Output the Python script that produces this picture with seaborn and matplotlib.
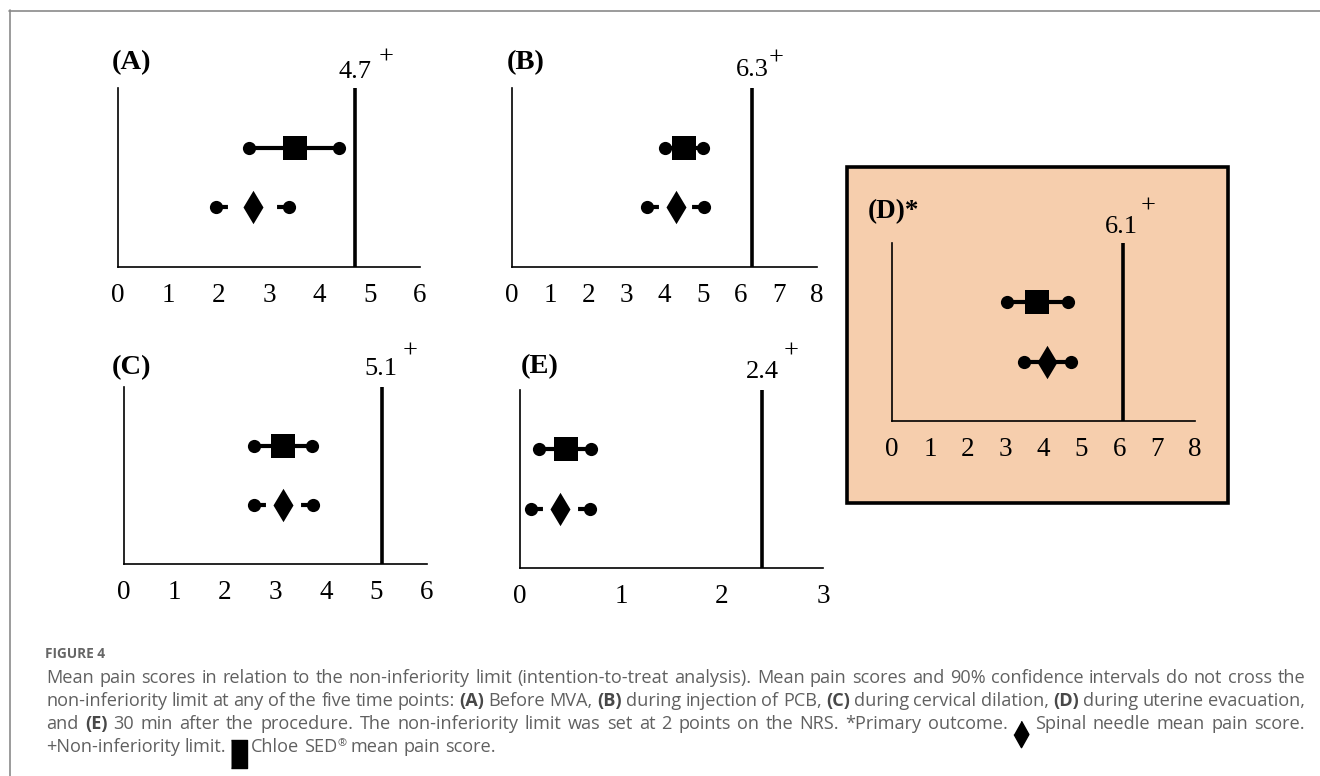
import numpy as np
import pandas as pd
import matplotlib
matplotlib.use("Agg")
import matplotlib.pyplot as plt
import seaborn as sns
from matplotlib.lines import Line2D
from matplotlib.patches import Rectangle

# ---------------- data ----------------
panels = ["A", "B", "C", "D", "E"]
panel_titles = ["(A)", "(B)", "(C)", "(D)*", "(E)"]
limits = [4.7, 6.3, 5.1, 6.1, 2.4]
limit_labels = ["4.7", "6.3", "5.1", "6.1", "2.4"]
x_max = [6, 8, 6, 8, 3]
groups = ["Chloe SED", "Spinal needle"]
chloe_mean = [3.52, 4.51, 3.15, 3.83, 0.46]
chloe_lo = [2.60, 4.00, 2.57, 3.03, 0.19]
chloe_hi = [4.40, 5.00, 3.72, 4.64, 0.70]
spinal_mean = [2.68, 4.30, 3.15, 4.09, 0.40]
spinal_lo = [1.95, 3.55, 2.57, 3.48, 0.11]
spinal_hi = [3.40, 5.04, 3.74, 4.72, 0.69]

caption_head = "FIGURE 4"
caption_lines = [
    "Mean pain scores in relation to the non-inferiority limit (intention-to-treat analysis). Mean pain scores and 90% confidence intervals do not cross the",
    "non-inferiority limit at any of the five time points: **(A)** Before MVA, **(B)** during injection of PCB, **(C)** during cervical dilation, **(D)** during uterine evacuation,",
    "and **(E)** 30 min after the procedure. The non-inferiority limit was set at 2 points on the NRS. *Primary outcome. ◆ Spinal needle mean pain score.",
    "+Non-inferiority limit. ■ Chloe SED^® mean pain score.",
]

# ---------------- style ----------------
sns.set_style("white")
plt.rcParams["font.family"] = ["Liberation Serif", "DejaVu Serif"]
plt.rcParams["lines.scale_dashes"] = False

W, H = 1320, 776
fig = plt.figure(figsize=(W / 100, H / 100), dpi=100)
fig.patch.set_facecolor("white")


def fx(px):
    return px / W


def fy(py):
    return 1 - py / H


# outer frame lines
fig.add_artist(Line2D([fx(9), 1], [fy(10.5), fy(10.5)], color="#8a8a8a", lw=1.2))
fig.add_artist(Line2D([fx(9.5), fx(9.5)], [fy(10), 0], color="#8a8a8a", lw=1.2))

# highlighted box for panel D
PEACH = "#F6CEAD"
fig.add_artist(Rectangle((fx(847), fy(503)), (1228 - 847) / W, (503 - 167) / H,
                         transform=fig.transFigure, facecolor=PEACH,
                         edgecolor="black", lw=2.6, zorder=0))

axes_px = {"A": (118, 88, 420, 267), "B": (512, 88, 817, 267),
           "C": (124, 387, 427, 564), "D": (892, 243, 1195, 421),
           "E": (520, 390, 823, 568)}
title_px = {"A": (112, 69), "B": (507, 69), "C": (112, 374), "D": (868, 218), "E": (521, 373)}
limlab_px = {"A": (355, 78), "B": (752, 76), "C": (381, 375), "D": (1121, 233), "E": (762, 378)}
plus_px = {"A": (386, 58), "B": (776, 59), "C": (410, 352), "D": (1148, 207), "E": (791, 352)}

for i, p in enumerate(panels):
    l, t, r, b = axes_px[p]
    ax = fig.add_axes([fx(l), fy(b), (r - l) / W, (b - t) / H])
    ax.patch.set_alpha(0)

    # CI lines
    ax.plot([chloe_lo[i], chloe_hi[i]], [1, 1], color="black", lw=3, solid_capstyle="butt", zorder=2)
    if p == "D":
        ax.plot([spinal_lo[i], spinal_hi[i]], [0, 0], color="black", lw=3, solid_capstyle="butt", zorder=2)
    else:
        dash = (0, (8.6, 200))
        ax.plot([spinal_lo[i], spinal_mean[i]], [0, 0], color="black", lw=3,
                linestyle=dash, dash_capstyle="butt", zorder=2)
        ax.plot([spinal_hi[i], spinal_mean[i]], [0, 0], color="black", lw=3,
                linestyle=dash, dash_capstyle="butt", zorder=2)

    ends = pd.DataFrame({"score": [chloe_lo[i], chloe_hi[i], spinal_lo[i], spinal_hi[i]],
                         "row": [1, 1, 0, 0]})
    sns.scatterplot(data=ends, x="score", y="row", ax=ax, color="black", marker="o",
                    s=9.5 ** 2, linewidth=0, zorder=3)
    means = pd.DataFrame({"score": [chloe_mean[i], spinal_mean[i]], "row": [1, 0], "group": groups})
    sns.scatterplot(data=means[means.group == groups[0]], x="score", y="row", ax=ax,
                    color="black", marker="s", s=17 ** 2, linewidth=0, zorder=4)
    sns.scatterplot(data=means[means.group == groups[1]], x="score", y="row", ax=ax,
                    color="black", marker="d", s=17 ** 2, linewidth=0, zorder=4)

    ax.axvline(limits[i], color="black", lw=2.6, zorder=1)
    ax.set_xlim(0, x_max[i])
    ax.set_ylim(-1, 2)
    ax.set_xticks(range(x_max[i] + 1))
    ax.set_yticks([])
    ax.set_xlabel("")
    ax.set_ylabel("")
    for s in ["top", "right"]:
        ax.spines[s].set_visible(False)
    for s in ["left", "bottom"]:
        ax.spines[s].set_color("black")
        ax.spines[s].set_linewidth(1.2)
    ax.tick_params(axis="x", length=0, pad=11.5, labelsize=19.5, colors="black")
    leg = ax.get_legend()
    if leg:
        leg.remove()

    tx, ty = title_px[p]
    fig.text(fx(tx), fy(ty), panel_titles[i], ha="left", va="baseline",
             fontsize=20.5 if p != "D" else 19.5, fontweight="bold", color="black")
    lx, ly = limlab_px[p]
    fig.text(fx(lx), fy(ly), limit_labels[i], ha="center", va="baseline",
             fontsize=19, color="black")
    px_, py_ = plus_px[p]
    fig.text(fx(px_), fy(py_), "+", ha="center", va="center", fontsize=19, color="black")

# ---------------- caption ----------------
renderer = fig.canvas.get_renderer()
CAP_FONT = ["Open Sans", "DejaVu Sans"]
CAP_COLOR = "#606060"
X0, X1 = 46, 1305
glyph_w = {"diamond": 14, "square": 15}


def make_styles(size):
    return {
        "r": dict(fontfamily=CAP_FONT, fontsize=size, color=CAP_COLOR),
        "b": dict(fontfamily=CAP_FONT, fontsize=size, color="#484848", fontweight="bold"),
        "sup": dict(fontfamily=CAP_FONT, fontsize=size * 0.6, color=CAP_COLOR),
    }


styles = make_styles(10.5)


def text_w(s, st):
    t = fig.text(0, 0, s, **styles[st])
    w = t.get_window_extent(renderer).width
    t.remove()
    return w


def parse(line):
    words = []
    for w in line.split(" "):
        if w == "◆":
            words.append([("diamond", "")])
        elif w == "■":
            words.append([("square", "")])
        else:
            segs = []
            for k, part in enumerate(w.split("**")):
                if not part:
                    continue
                st = "b" if k % 2 == 1 else "r"
                if "^" in part:
                    a, c = part.split("^")
                    segs.append((st, a))
                    segs.append(("sup", c))
                else:
                    segs.append((st, part))
            words.append(segs)
    return words


def seg_w(seg):
    kind, s = seg
    if kind in glyph_w:
        return glyph_w[kind]
    return text_w(s, kind)


def space_width():
    return text_w("a a", "r") - text_w("aa", "r")


def natural_width(line):
    words = parse(line)
    return sum(sum(seg_w(s) for s in w) for w in words) + space_width() * (len(words) - 1)


# fit the caption font so that the first line fills the column with normal spacing
nat = natural_width(caption_lines[0])
cap_size = 10.5 * (X1 - X0 - 6) / nat
styles = make_styles(cap_size)
space_w = space_width()

diamond_marker = [(0, 1), (0.56, 0), (0, -1), (-0.56, 0)]
square_marker = [(-0.28, -0.5), (0.28, -0.5), (0.28, 0.5), (-0.28, 0.5)]


def place_line(line, y_base, justify):
    words = parse(line)
    widths = [sum(seg_w(s) for s in w) for w in words]
    gap = (X1 - X0 - sum(widths)) / (len(words) - 1) if justify else space_w
    x = X0
    for w, wd in zip(words, widths):
        xx = x
        for seg in w:
            kind, s = seg
            sw = seg_w(seg)
            if kind == "diamond":
                fig.add_artist(Line2D([fx(xx + sw / 2)], [fy(y_base + 5)], marker=diamond_marker,
                                      markersize=19, color="black", lw=0,
                                      transform=fig.transFigure))
            elif kind == "square":
                fig.add_artist(Line2D([fx(xx + sw / 2)], [fy(y_base + 2)], marker=square_marker,
                                      markersize=19.5, color="black", lw=0,
                                      transform=fig.transFigure))
            else:
                dy = 6 if kind == "sup" else 0
                fig.text(fx(xx), fy(y_base - dy), s, ha="left", va="baseline", **styles[kind])
            xx += sw
        x += wd + gap


fig.text(fx(45), fy(658), caption_head, ha="left", va="baseline",
         fontfamily=CAP_FONT, fontsize=9.8, fontweight="bold", color="#666666")
baselines = [683, 706, 729, 752]
for k, line in enumerate(caption_lines):
    place_line(line, baselines[k], justify=(k < len(caption_lines) - 1))

fig.savefig("out.png", dpi=100, facecolor="white")
